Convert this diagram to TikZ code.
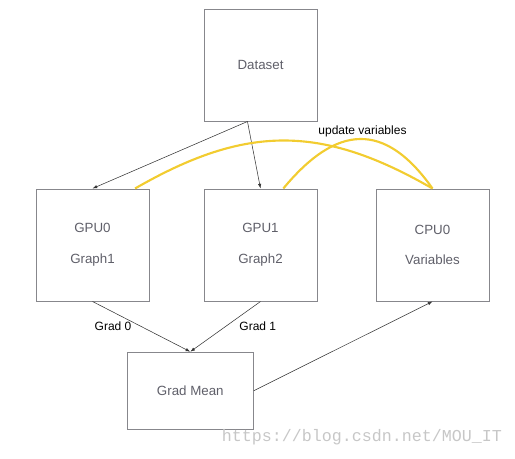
\documentclass[tikz,border=0pt]{standalone}
\usepackage{fontspec}
\setmainfont{Liberation Sans}
\newfontfamily\markfont{Liberation Mono}
\usetikzlibrary{arrows.meta, positioning}
\definecolor{boxline}{RGB}{135,135,140}
\definecolor{boxtext}{RGB}{95,95,105}
\definecolor{syncyellow}{RGB}{242,204,48}
\tikzset{
    square-box/.style = {draw=boxline, line width=0.75pt, rectangle, minimum width=84.75pt, minimum height=84pt, text=boxtext, align=center, font=\fontsize{10}{23}\selectfont},
    flow-arrow/.style = {draw=black!80, line width=0.4pt, -{Latex[length=3.5pt,width=2.5pt]}},
    sync-curve/.style = {draw=syncyellow, line width=1.6pt},
    edge-label/.style = {font=\fontsize{9}{11}\selectfont},
}

\begin{document}
\begin{tikzpicture}[x=0.75pt, y=-0.75pt]
\useasboundingbox (0,0) rectangle (515,458);
\node [square-box] (dataset) at (260.5,65) {Dataset};
\node [square-box, below=50.25pt of dataset] (gpu1) {GPU1\\Graph2};
\node [square-box, left=40.5pt of gpu1] (gpu0) {GPU0\\Graph1};
\node [square-box, right=43.5pt of gpu1] (cpu0) {CPU0\\Variables};
\node [square-box, minimum width=94.5pt, minimum height=57.75pt] (gradmean) at (190.3,390.7) {Grad Mean};
\draw [flow-arrow] (dataset.-103) -- (gpu0.north);
\draw [flow-arrow] (dataset.-103) -- (gpu1.north);
\draw [flow-arrow] (gpu0.south) -- node[edge-label, left=4pt] {Grad 0} (gradmean.north);
\draw [flow-arrow] (gpu1.south) -- node[edge-label, right=7pt] {Grad 1} (gradmean.north);
\draw [flow-arrow] (gradmean.east) -- (cpu0.south);
\draw [sync-curve] (gpu0.53) .. controls +(111,-64) and +(-111,-64) .. (cpu0.north);
\draw [sync-curve] (gpu1.68) .. controls +(53,-64) and +(-48,-68) .. (cpu0.north);
\node [edge-label] (update) at (362.5,131) {update variables};
\node [font=\markfont\fontsize{12.5}{14}\selectfont, text=black!22] (mark) at (362,437) {https://blog.csdn.net/MOU\_IT};
\end{tikzpicture}
\end{document}
